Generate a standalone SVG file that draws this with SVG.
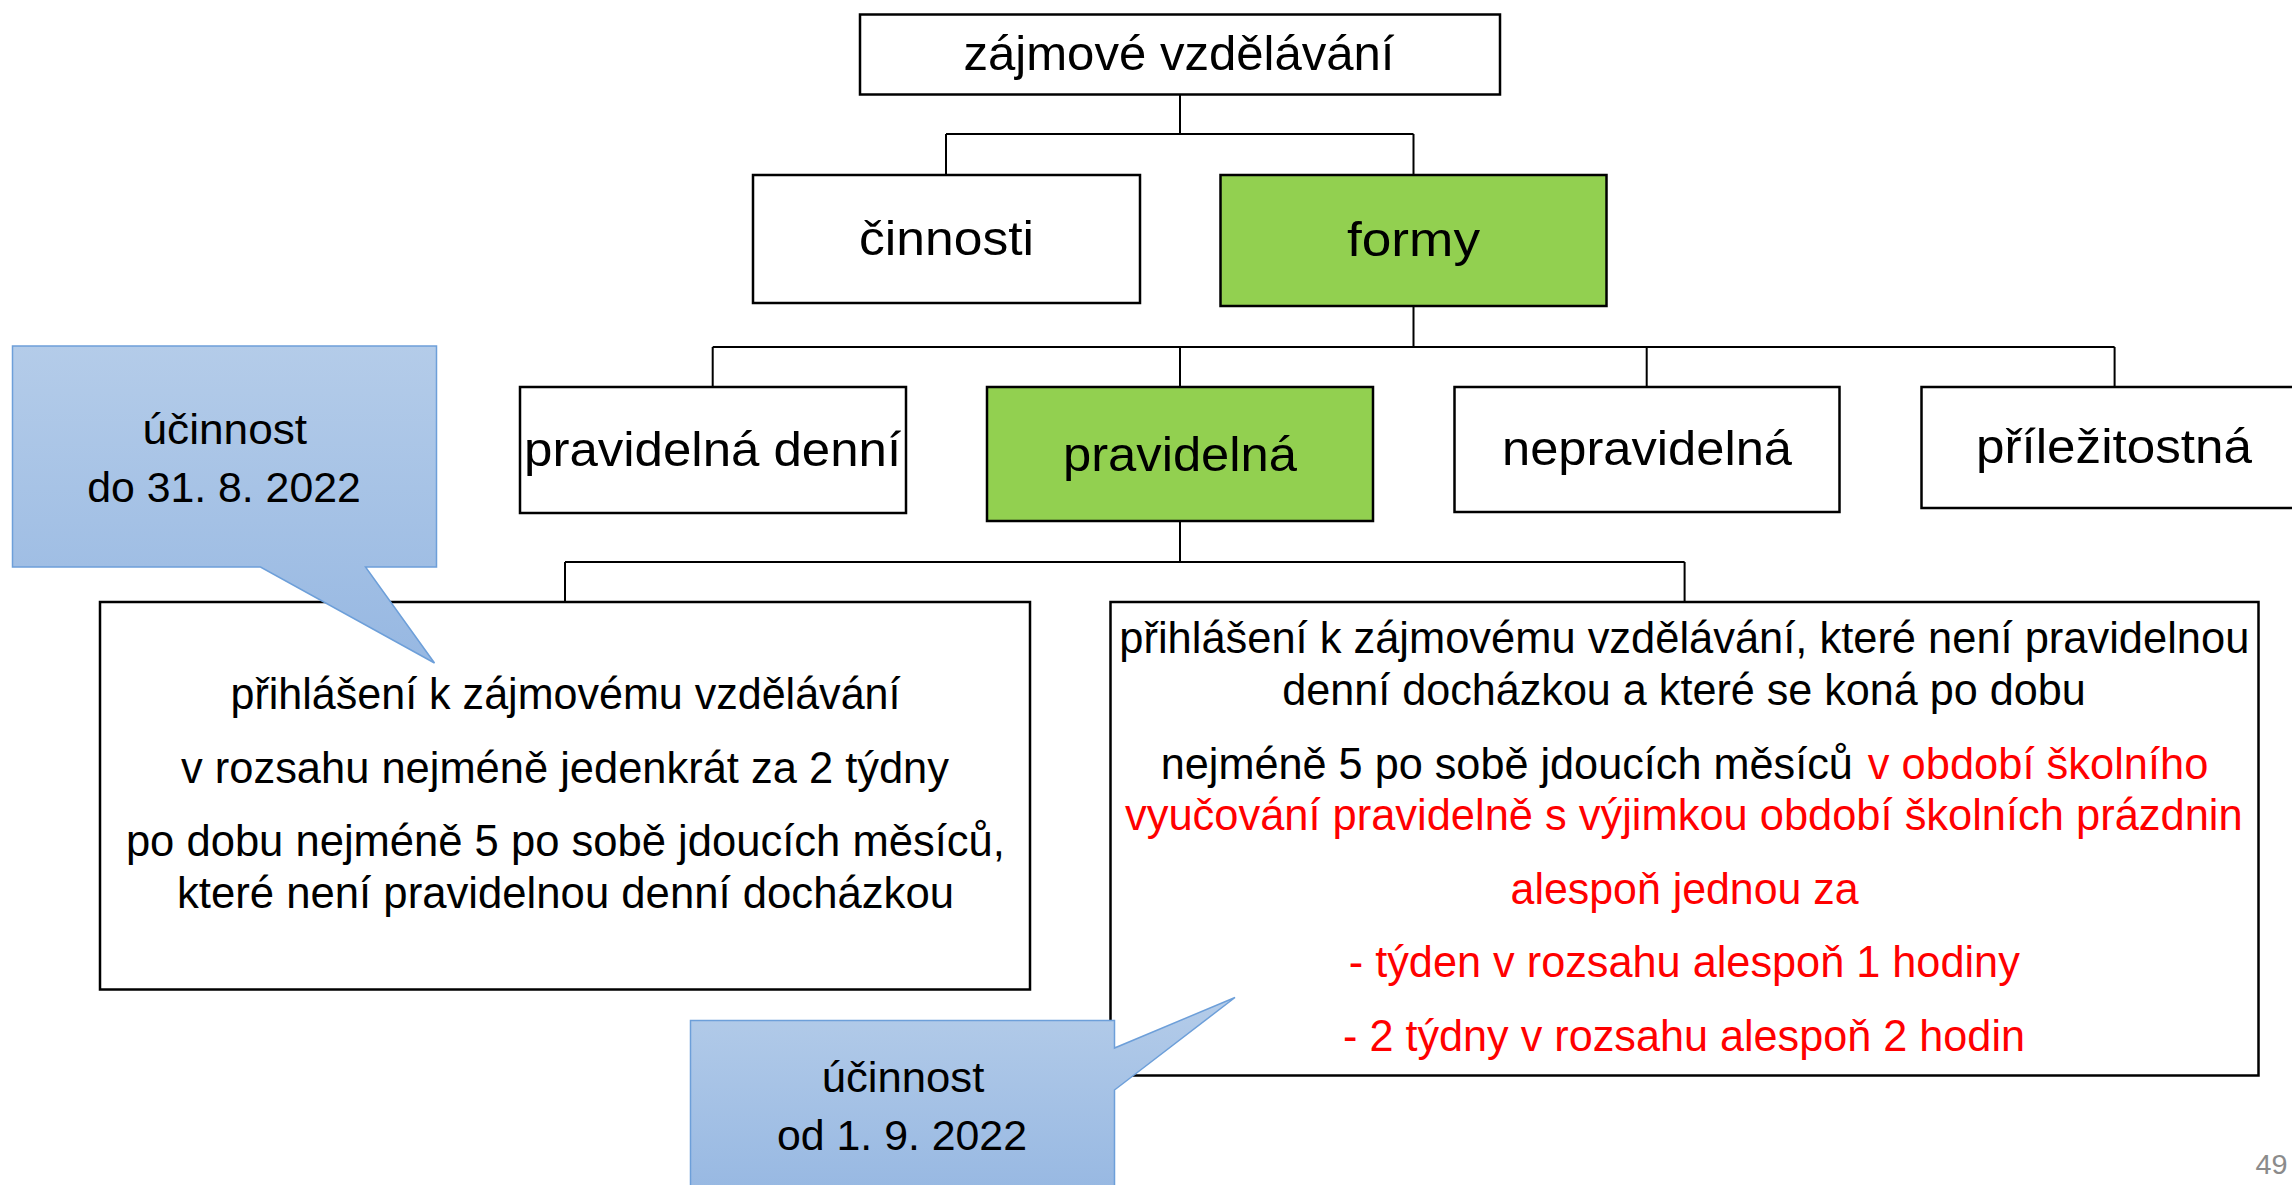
<svg xmlns="http://www.w3.org/2000/svg" width="2292" height="1185" viewBox="0 0 2292 1185">
<defs>
<linearGradient id="blueGrad" x1="0" y1="0" x2="0" y2="1">
<stop offset="0" stop-color="#b4cce9"/>
<stop offset="1" stop-color="#97b8e2"/>
</linearGradient>
<style>
.box{fill:#ffffff;stroke:#000000;stroke-width:2.5}
.green{fill:#92d050;stroke:#000000;stroke-width:2.5}
.conn{fill:none;stroke:#000000;stroke-width:2}
.callout{fill:url(#blueGrad);stroke:#6d9fd9;stroke-width:1.5}
text{font-family:"Liberation Sans",Arial,sans-serif;fill:#000000}
.lbl{font-size:48px;text-anchor:middle}
.body{font-size:44px;text-anchor:middle}
.bodys{font-size:44px;text-anchor:start}
.co{font-size:42px;text-anchor:middle}
.red{fill:#ff0000}
.pg{font-size:28px;fill:#8b8b8b}
</style>
</defs>
<rect width="2292" height="1185" fill="#ffffff"/>
<g id="connectors">
<path class="conn" d="M1180,94.5 V134 M946,134 H1413.5 M946,134 V175 M1413.5,134 V175"/>
<path class="conn" d="M1413.5,306 V347 M712.7,347 H2114.6 M712.7,347 V387 M1180,347 V387 M1646.7,347 V387 M2114.6,347 V387"/>
<path class="conn" d="M1180,521 V562 M565,562 H1684.6 M565,562 V602 M1684.6,562 V602"/>
</g>
<g id="node-zajmove">
<rect class="box" x="860" y="14.5" width="640" height="80"/>
<text class="lbl" x="1179" y="70" textLength="431" lengthAdjust="spacingAndGlyphs">zájmové vzdělávání</text>
</g>
<g id="node-cinnosti">
<rect class="box" x="753" y="175" width="387" height="128"/>
<text class="lbl" x="946.5" y="254.5" textLength="175" lengthAdjust="spacingAndGlyphs">činnosti</text>
</g>
<g id="node-formy">
<rect class="green" x="1220.5" y="175" width="386" height="131"/>
<text class="lbl" x="1413.5" y="255.5" textLength="133" lengthAdjust="spacingAndGlyphs">formy</text>
</g>
<g id="node-pravidelna-denni">
<rect class="box" x="520" y="387" width="386" height="126"/>
<text class="lbl" x="712.6" y="466" textLength="377" lengthAdjust="spacingAndGlyphs">pravidelná denní</text>
</g>
<g id="node-pravidelna">
<rect class="green" x="987" y="387" width="386" height="134"/>
<text class="lbl" x="1180" y="471" textLength="234" lengthAdjust="spacingAndGlyphs">pravidelná</text>
</g>
<g id="node-nepravidelna">
<rect class="box" x="1454.5" y="387" width="385" height="125"/>
<text class="lbl" x="1647" y="465" textLength="290" lengthAdjust="spacingAndGlyphs">nepravidelná</text>
</g>
<g id="node-prilezitostna">
<rect class="box" x="1921.5" y="387" width="400" height="121"/>
<text class="lbl" x="2114" y="463" textLength="276" lengthAdjust="spacingAndGlyphs">příležitostná</text>
</g>
<g id="node-old-definition">
<rect class="box" x="100" y="602" width="930" height="387.5"/>
<text class="body" x="565.5" y="709" textLength="670" lengthAdjust="spacingAndGlyphs">přihlášení k zájmovému vzdělávání</text>
<text class="body" x="565" y="782.5" textLength="768" lengthAdjust="spacingAndGlyphs">v rozsahu nejméně jedenkrát za 2 týdny</text>
<text class="body" x="565.4" y="855.8" textLength="879" lengthAdjust="spacingAndGlyphs">po dobu nejméně 5 po sobě jdoucích měsíců,</text>
<text class="body" x="565.5" y="908" textLength="777" lengthAdjust="spacingAndGlyphs">které není pravidelnou denní docházkou</text>
</g>
<g id="node-new-definition">
<rect class="box" x="1110.5" y="602" width="1148" height="473.5"/>
<text class="body" x="1684.3" y="652.5" textLength="1130" lengthAdjust="spacingAndGlyphs">přihlášení k zájmovému vzdělávání, které není pravidelnou</text>
<text class="body" x="1684" y="705.4" textLength="803.5" lengthAdjust="spacingAndGlyphs">denní docházkou a které se koná po dobu</text>
<text class="bodys" x="1160.8" y="778.7" textLength="692" lengthAdjust="spacingAndGlyphs">nejméně 5 po sobě jdoucích měsíců</text>
<text class="bodys red" x="1867.8" y="778.7" textLength="340.6" lengthAdjust="spacingAndGlyphs">v období školního</text>
<text class="body red" x="1683.8" y="830" textLength="1117.6" lengthAdjust="spacingAndGlyphs">vyučování pravidelně s výjimkou období školních prázdnin</text>
<text class="body red" x="1684.6" y="904" textLength="348" lengthAdjust="spacingAndGlyphs">alespoň jednou za</text>
<text class="body red" x="1684.3" y="977.4" textLength="671" lengthAdjust="spacingAndGlyphs">- týden v rozsahu alespoň 1 hodiny</text>
<text class="body red" x="1684" y="1051.4" textLength="682" lengthAdjust="spacingAndGlyphs">- 2 týdny v rozsahu alespoň 2 hodin</text>
</g>
<g id="callout-old">
<path class="callout" d="M12.5,346 H436.5 V567 H365.5 L434.5,663 L260.5,567 H12.5 Z"/>
<text class="co" x="224.8" y="444" textLength="164.5" lengthAdjust="spacingAndGlyphs">účinnost</text>
<text class="co" x="224" y="501.5" textLength="273.5" lengthAdjust="spacingAndGlyphs">do 31. 8. 2022</text>
</g>
<g id="callout-new">
<path class="callout" d="M690.5,1020.5 H1114.5 V1048 L1235,997.5 L1114.5,1090 V1195 H690.5 Z"/>
<text class="co" x="903" y="1091.5" textLength="162.6" lengthAdjust="spacingAndGlyphs">účinnost</text>
<text class="co" x="902" y="1150" textLength="250" lengthAdjust="spacingAndGlyphs">od 1. 9. 2022</text>
</g>
<g id="page-number">
<text class="pg" x="2255.5" y="1174" textLength="32" lengthAdjust="spacingAndGlyphs">49</text>
</g>
</svg>
